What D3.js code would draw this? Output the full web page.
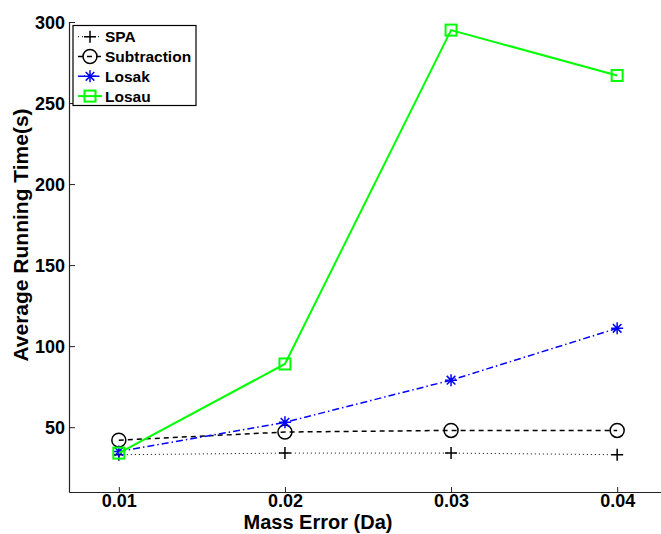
<!DOCTYPE html>
<html><head><meta charset="utf-8">
<script src="https://cdn.jsdelivr.net/npm/d3@7"></script>
<style>body{margin:0;background:#fff}svg{display:block}text{font-family:"Liberation Sans",Arial,sans-serif;font-weight:bold}</style>
</head><body><svg id="c" width="661" height="534"></svg>
<script>
const massError = [0.01, 0.02, 0.03, 0.04];
const spa = [33, 34, 34, 33];
const subtraction = [42, 47, 48, 48];
const losak = [35, 53, 79, 111];
const losau = [34, 89, 295, 267];
const xTicks = [0.01, 0.02, 0.03, 0.04];
const yTicks = [50, 100, 150, 200, 250, 300];
const seriesNames = ["SPA", "Subtraction", "Losak", "Losau"];

const svg = d3.select("#c");
const x = d3.scaleLinear().domain([0.007, 0.043]).range([69, 667]);
const y = d3.scaleLinear().domain([10, 300]).range([492, 22]);

const series = [
  {name: seriesNames[0], vals: spa, color: "#000", dash: "1,3", marker: "plus", w: 1},
  {name: seriesNames[1], vals: subtraction, color: "#000", dash: "5,4", marker: "circle", w: 1.5},
  {name: seriesNames[2], vals: losak, color: "#0000ff", dash: "7,3,1.5,3", marker: "star", w: 1.5},
  {name: seriesNames[3], vals: losau, color: "#00ff00", dash: null, marker: "square", w: 2}
];

// axes
const xAxis = d3.axisBottom(x).tickValues(xTicks).tickFormat(d3.format(".2f")).tickSizeInner(-5).tickSizeOuter(0).tickPadding(2);
const yAxis = d3.axisLeft(y).tickValues(yTicks).tickFormat(d3.format("d")).tickSizeInner(-6).tickSizeOuter(0).tickPadding(4);
const gx = svg.append("g").attr("transform", "translate(0,492)").call(xAxis);
const gy = svg.append("g").attr("transform", "translate(69,0)").call(yAxis);
[gx, gy].forEach(g => {
  g.select(".domain").attr("stroke", "#222").attr("stroke-width", 1.2);
  g.selectAll(".tick line").attr("stroke", "#222").attr("stroke-width", 1);
  g.selectAll(".tick text").attr("fill", "#000").style("font-size", "18px").style("font-family", "Liberation Sans, Arial, sans-serif").style("font-weight", "bold");
});
gx.selectAll(".tick text").attr("dy", "0.71em");
gy.selectAll(".tick text").attr("dy", "0.36em");

svg.append("text").attr("x", 318).attr("y", 529).attr("text-anchor", "middle").style("font-size", "20px").text("Mass Error (Da)");
svg.append("text").attr("transform", "translate(28,235) rotate(-90)").attr("text-anchor", "middle").style("font-size", "21px").text("Average Running Time(s)");

function drawMarker(g, type, cx, cy, color) {
  if (type === "plus") {
    g.append("path").attr("d", `M${cx-6},${cy}H${cx+6}M${cx},${cy-6}V${cy+6}`).attr("stroke", color).attr("stroke-width", 1.5).attr("fill", "none");
  } else if (type === "circle") {
    g.append("circle").attr("cx", cx).attr("cy", cy).attr("r", 7).attr("stroke", color).attr("stroke-width", 1.5).attr("fill", "none");
  } else if (type === "star") {
    const r = 6, d = 4.3;
    g.append("path").attr("d", `M${cx-r},${cy}H${cx+r}M${cx},${cy-r}V${cy+r}M${cx-d},${cy-d}L${cx+d},${cy+d}M${cx-d},${cy+d}L${cx+d},${cy-d}`).attr("stroke", color).attr("stroke-width", 1.5).attr("fill", "none");
  } else if (type === "square") {
    g.append("rect").attr("x", cx-5.5).attr("y", cy-5.5).attr("width", 11).attr("height", 11).attr("stroke", color).attr("stroke-width", 2).attr("fill", "none");
  }
}

const line = d3.line().x((d, i) => x(massError[i])).y(d => y(d));
series.forEach(s => {
  const g = svg.append("g");
  g.append("path").datum(s.vals).attr("d", line).attr("fill", "none").attr("stroke", s.color).attr("stroke-width", s.w).attr("stroke-dasharray", s.dash);
  s.vals.forEach((v, i) => drawMarker(g, s.marker, x(massError[i]), y(v), s.color));
});

// legend
const lg = svg.append("g");
lg.append("rect").attr("x", 73).attr("y", 25.5).attr("width", 123).attr("height", 80).attr("fill", "#fff").attr("stroke", "#000").attr("stroke-width", 1.2);
series.forEach((s, i) => {
  const cy = 36.7 + i * 19.8;
  lg.append("line").attr("x1", 78).attr("x2", 102).attr("y1", cy).attr("y2", cy).attr("stroke", s.color).attr("stroke-width", s.w).attr("stroke-dasharray", s.dash);
  drawMarker(lg, s.marker, 90, cy, s.color);
  lg.append("text").attr("x", 105).attr("y", cy).attr("dy", "0.36em").style("font-size", "15.5px").text(s.name);
});
</script></body></html>
